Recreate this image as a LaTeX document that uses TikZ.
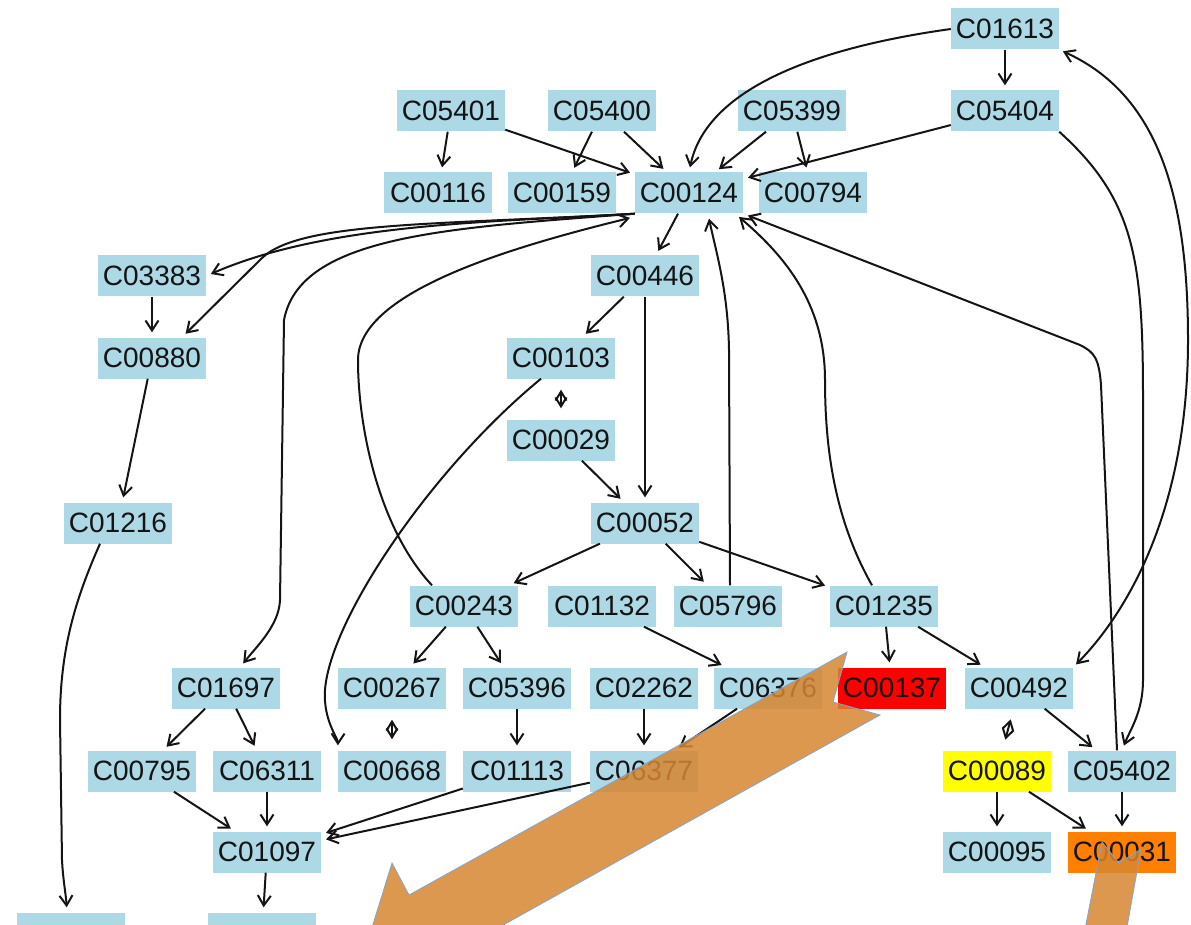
\documentclass[tikz,border=0pt]{standalone}
\usepackage{fontspec}
\setmainfont{Liberation Sans}
\usetikzlibrary{arrows.meta}
\definecolor{cpdblue}{RGB}{173,216,230}
\definecolor{hitred}{RGB}{255,0,0}
\definecolor{hityellow}{RGB}{255,255,0}
\definecolor{hitorange}{RGB}{255,128,0}
\definecolor{callout}{RGB}{215,134,49}
\definecolor{calloutedge}{RGB}{130,165,205}
\definecolor{ink}{RGB}{20,20,20}
\begin{document}
\begin{tikzpicture}[x=1pt,y=-1pt,
  cpd/.style={fill=cpdblue, minimum width=108pt, minimum height=41pt, inner sep=0pt,
              font=\fontsize{28}{28}\selectfont, text=ink},
  conv/.style={draw=ink, line width=2pt, -{Straight Barb[length=10pt,width=13pt]}, shorten >=5pt},
  biconv/.style={draw=ink, line width=2pt,
                 {Straight Barb[length=9pt,width=11pt]}-{Straight Barb[length=9pt,width=11pt]},
                 shorten >=11pt, shorten <=11pt},
  bigarrow/.style={fill=callout, fill opacity=.85, draw=calloutedge, line width=.8pt}]
\useasboundingbox (0,0) rectangle (1191,925);

% compounds
\node[cpd] (C01613) at (1005,29) {C01613};

\node[cpd] (C05401) at (451,111) {C05401};
\node[cpd] (C05400) at (602,111) {C05400};
\node[cpd] (C05399) at (792,111) {C05399};
\node[cpd] (C05404) at (1005,111) {C05404};

\node[cpd] (C00116) at (438,193) {C00116};
\node[cpd] (C00159) at (562,193) {C00159};
\node[cpd] (C00124) at (689,193) {C00124};
\node[cpd] (C00794) at (813,193) {C00794};

\node[cpd] (C03383) at (152,276) {C03383};
\node[cpd] (C00446) at (645,276) {C00446};

\node[cpd] (C00880) at (152,358) {C00880};
\node[cpd] (C00103) at (561,358) {C00103};

\node[cpd] (C00029) at (561,440) {C00029};

\node[cpd] (C01216) at (118,523) {C01216};
\node[cpd] (C00052) at (645,523) {C00052};

\node[cpd] (C00243) at (464,606) {C00243};
\node[cpd] (C01132) at (602,606) {C01132};
\node[cpd] (C05796) at (728,606) {C05796};
\node[cpd] (C01235) at (884,606) {C01235};

\node[cpd] (C01697) at (226,688) {C01697};
\node[cpd] (C00267) at (392,688) {C00267};
\node[cpd] (C05396) at (517,688) {C05396};
\node[cpd] (C02262) at (644,688) {C02262};
\node[cpd] (C06376) at (768,688) {C06376};
\node[cpd, fill=hitred] (C00137) at (892,688) {C00137};
\node[cpd] (C00492) at (1019,688) {C00492};

\node[cpd] (C00795) at (142,771) {C00795};
\node[cpd] (C06311) at (267,771) {C06311};
\node[cpd] (C00668) at (392,771) {C00668};
\node[cpd] (C01113) at (517,771) {C01113};
\node[cpd] (C06377) at (644,771) {C06377};
\node[cpd, fill=hityellow] (C00089) at (997,771) {C00089};
\node[cpd] (C05402) at (1122,771) {C05402};

\node[cpd] (C01097) at (267,852) {C01097};
\node[cpd] (C00095) at (997,852) {C00095};
\node[cpd, fill=hitorange] (C00031) at (1122,852) {C00031};

\node[cpd] (lowA) at (71,933) {};
\node[cpd] (lowB) at (262,933) {};

% straight reactions
\draw[conv] (C01613) -- (C05404);
\draw[conv] (C05401) -- (C00116);
\draw[conv] (C05401) -- (C00124);
\draw[conv] (C05400) -- (C00159);
\draw[conv] (C05400) -- (C00124);
\draw[conv] (C05399) -- (C00124);
\draw[conv] (C05399) -- (C00794);
\draw[conv] (C05404) -- (C00124);
\draw[conv] (C00124) -- (C00446);
\draw[conv] (C00446) -- (C00103);
\draw[conv] (C00446) -- (C00052);
\draw[conv] (C00029) -- (C00052);
\draw[conv] (C03383) -- (C00880);
\draw[conv] (C00880) -- (C01216);
\draw[conv] (C00052) -- (C00243);
\draw[conv] (C00052) -- (C05796);
\draw[conv] (C00052) -- (C01235);
\draw[conv] (C00243) -- (C00267);
\draw[conv] (C00243) -- (C05396);
\draw[conv] (C01132) -- (C06376);
\draw[conv] (C01235) -- (C00137);
\draw[conv] (C01235) -- (C00492);
\draw[conv] (C01697) -- (C00795);
\draw[conv] (C01697) -- (C06311);
\draw[conv] (C05396) -- (C01113);
\draw[conv] (C02262) -- (C06377);
\draw[conv] (C06376) -- (C06377);
\draw[conv] (C00492) -- (C05402);
\draw[conv] (C00795) -- (C01097);
\draw[conv] (C06311) -- (C01097);
\draw[conv] (C01113) -- (C01097);
\draw[conv] (C06377) -- (C01097);
\draw[conv] (C00089) -- (C00095);
\draw[conv] (C00089) -- (C00031);
\draw[conv] (C05402) -- (C00031);
\draw[conv] (C01097) -- (lowB);

% reversible steps
\draw[biconv] (C00103) -- (C00029);
\draw[biconv] (C00267) -- (C00668);
\draw[biconv] (C00492) -- (C00089);

% curved reactions
\draw[conv] (C01613.west) .. controls (800,50) and (705,95) .. (C00124.north);
\draw[conv] (C05404.south east) .. controls (1135,200) and (1143,260) .. (1143,400)
  -- (1143,680) .. controls (1143,712) and (1130,730) .. (C05402.north);
\draw[draw=ink, line width=2pt,
      {Straight Barb[length=10pt,width=13pt]}-{Straight Barb[length=10pt,width=13pt]},
      shorten >=4pt, shorten <=4pt]
  (C01613.south east) .. controls (1160,95) and (1188,200) .. (1188,340)
  .. controls (1188,520) and (1120,620) .. (C00492.north east);
\draw[conv] ([xshift=-5pt]C05402.north) -- (1101,385) .. controls (1099,358) and (1094,352) .. (1080,345)
  -- (C00124.south east);
\draw[conv] ([xshift=-12pt]C01235.north) .. controls (835,520) and (825,450) .. (825,380)
  .. controls (825,300) and (780,252) .. ([xshift=-8pt]C00124.south east);
\draw[conv] ([xshift=2pt]C05796.north) -- (729,350) .. controls (728,290) and (716,252) .. ([xshift=19pt]C00124.south);
\draw[conv] ([xshift=-32pt]C00243.north) .. controls (380,530) and (358,430) .. (358,360)
  .. controls (358,290) and (520,245) .. ([yshift=-3pt]C00124.south west);
\draw[conv] ([xshift=-20pt]C00103.south) .. controls (430,470) and (330,620) .. (325,690)
  .. controls (323,720) and (338,738) .. (C00668.north west);
\draw[conv] (C00124.south west) .. controls (500,222) and (330,222) .. (C03383.east);
\draw[conv] (C00124.south west) .. controls (430,225) and (300,222) .. (262,258) -- ([xshift=30pt]C00880.north);
\draw[conv] (C00124.south west) .. controls (450,228) and (300,235) .. (284,320)
  -- (280,600) .. controls (279,625) and (258,645) .. ([xshift=14pt]C01697.north);
\draw[conv] ([xshift=-18pt]C01216.south) .. controls (75,600) and (60,650) .. (60,720)
  -- (62,860) .. controls (63,880) and (66,895) .. ([xshift=-4pt]lowA.north);

% highlight callouts
\path[bigarrow] (847,652) -- (409,895) -- (392,863) -- (361,963) -- (461,989) -- (444,958)
  -- (880,715) -- (833,702) -- cycle;
\path[bigarrow] (1102,842) -- (1119,863) -- (1141,849) -- (1122,955) -- (1080,955) -- cycle;
\end{tikzpicture}
\end{document}
